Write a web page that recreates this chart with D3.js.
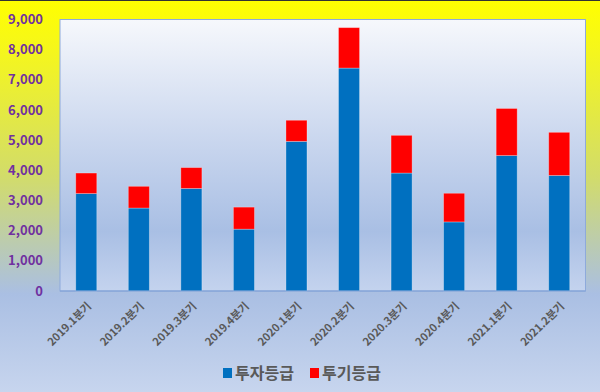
<!DOCTYPE html>
<html>
<head>
<meta charset="utf-8">
<script src="https://cdn.jsdelivr.net/npm/d3@7"></script>
<style>
  body { margin: 0; }
  text { font-family: "Noto Sans CJK KR", "Noto Sans", sans-serif; }
</style>
</head>
<body>
<div id="chart"></div>
<script>
// 데이터
const quarters = ["2019.1분기", "2019.2분기", "2019.3분기", "2019.4분기", "2020.1분기",
  "2020.2분기", "2020.3분기", "2020.4분기", "2021.1분기", "2021.2분기"];
const investGrade = [3230, 2750, 3400, 2050, 4960, 7390, 3910, 2290, 4490, 3830];
const specGrade = [680, 720, 690, 730, 700, 1340, 1250, 950, 1560, 1430];
const seriesNames = ["투자등급", "투기등급"];
const yTicks = [0, 1000, 2000, 3000, 4000, 5000, 6000, 7000, 8000, 9000];

const WIDTH = 600;
const HEIGHT = 392;
const margin = { top: 19.5, right: 14.5, bottom: 101, left: 60 };
const width = WIDTH - margin.left - margin.right;
const height = HEIGHT - margin.top - margin.bottom;

const svg = d3.select("#chart")
  .append("svg")
  .attr("width", WIDTH)
  .attr("height", HEIGHT);

// 배경 그라데이션
const defs = svg.append("defs");
const bgGrad = defs.append("linearGradient")
  .attr("id", "bg").attr("x1", 0).attr("y1", 0).attr("x2", 0).attr("y2", 1);
bgGrad.append("stop").attr("offset", "0%").attr("stop-color", "#ffff00");
bgGrad.append("stop").attr("offset", "12%").attr("stop-color", "#f6f71a");
bgGrad.append("stop").attr("offset", "45%").attr("stop-color", "#d2dc6a");
bgGrad.append("stop").attr("offset", "75%").attr("stop-color", "#aabfe3");
bgGrad.append("stop").attr("offset", "100%").attr("stop-color", "#c7d5ee");

const plotGrad = defs.append("linearGradient")
  .attr("id", "plotbg").attr("x1", 0).attr("y1", 0).attr("x2", 0).attr("y2", 1);
plotGrad.append("stop").attr("offset", "0%").attr("stop-color", "#f6f8fc");
plotGrad.append("stop").attr("offset", "45%").attr("stop-color", "#c9d6ee");
plotGrad.append("stop").attr("offset", "78%").attr("stop-color", "#a9bfe4");
plotGrad.append("stop").attr("offset", "100%").attr("stop-color", "#c4d3ee");

svg.append("rect")
  .attr("width", WIDTH).attr("height", HEIGHT)
  .attr("fill", "url(#bg)");

svg.append("line")
  .attr("x1", 0).attr("x2", WIDTH).attr("y1", 0.5).attr("y2", 0.5)
  .attr("stroke", "#333").attr("stroke-width", 1);

const g = svg.append("g")
  .attr("transform", `translate(${margin.left}, ${margin.top})`);

g.append("rect")
  .attr("width", width).attr("height", height)
  .attr("fill", "url(#plotbg)")
  .attr("stroke", "#8eaadb")
  .attr("stroke-width", 1);

// 스케일
const x = d3.scaleBand()
  .domain(quarters)
  .range([0, width])
  .paddingInner(0.6)
  .paddingOuter(0.3);

const y = d3.scaleLinear()
  .domain([0, 9000])
  .range([height, 0]);

const colors = ["#0070c0", "#ff0000"];

const table = quarters.map((q, i) => ({ q: q, a: investGrade[i], b: specGrade[i] }));
const stacked = d3.stack().keys(["a", "b"])(table);

g.selectAll("g.series")
  .data(stacked)
  .join("g")
  .attr("class", "series")
  .attr("fill", (d, i) => colors[i])
  .selectAll("rect")
  .data(d => d)
  .join("rect")
  .attr("x", d => x(d.data.q))
  .attr("y", d => y(d[1]))
  .attr("width", x.bandwidth())
  .attr("height", d => y(d[0]) - y(d[1]))
  .attr("stroke", "rgba(255,255,255,0.35)")
  .attr("stroke-width", 0.8);

// 축
g.append("line")
  .attr("x1", 0).attr("x2", width)
  .attr("y1", height).attr("y2", height)
  .attr("stroke", "#7f9fd6").attr("stroke-width", 1.2);

g.selectAll("text.ytick")
  .data(yTicks)
  .join("text")
  .attr("class", "ytick")
  .attr("x", -17)
  .attr("y", d => y(d))
  .attr("dy", "0.35em")
  .attr("text-anchor", "end")
  .attr("fill", "#7030a0")
  .attr("font-size", 13)
  .attr("font-weight", "bold")
  .text(d => d3.format(",")(d));

g.selectAll("text.xtick")
  .data(quarters)
  .join("text")
  .attr("class", "xtick")
  .attr("transform", d => `translate(${x(d) + x.bandwidth() / 2 + 3}, ${height + 13}) rotate(-45)`)
  .attr("text-anchor", "end")
  .attr("dy", "0.35em")
  .attr("fill", "#595959")
  .attr("font-size", 11)
  .attr("font-weight", "bold")
  .text(d => d);

// 범례
const legend = svg.append("g")
  .attr("transform", "translate(223, 373)");

const legendItems = legend.selectAll("g")
  .data(seriesNames)
  .join("g")
  .attr("transform", (d, i) => `translate(${i * 87}, 0)`);

legendItems.append("rect")
  .attr("x", 0).attr("y", -5)
  .attr("width", 9).attr("height", 10)
  .attr("fill", (d, i) => colors[i]);

legendItems.append("text")
  .attr("x", 12)
  .attr("dy", "0.35em")
  .attr("fill", "#595959")
  .attr("font-size", 16)
  .attr("font-weight", "bold")
  .text(d => d);
</script>
</body>
</html>
